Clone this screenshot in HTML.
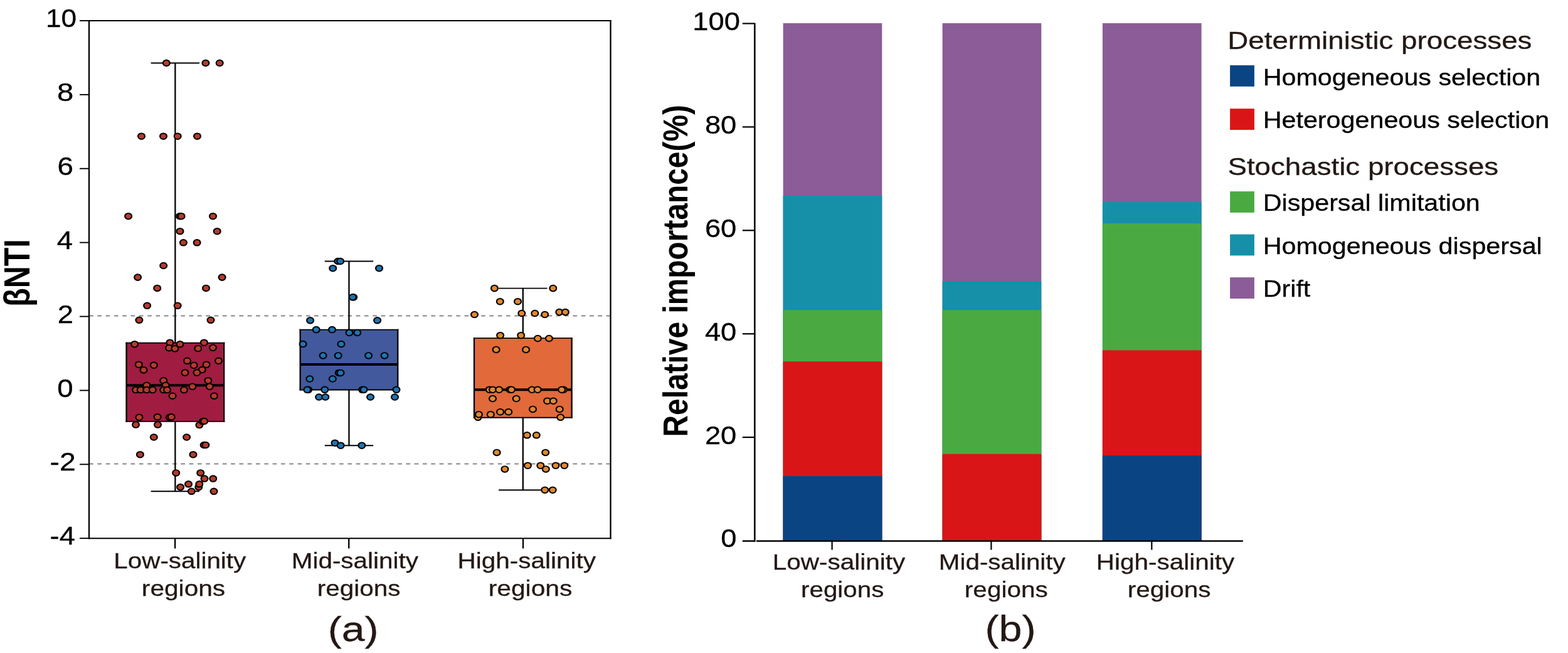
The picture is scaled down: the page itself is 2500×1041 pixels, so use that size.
<!DOCTYPE html>
<html><head><meta charset="utf-8"><title>Figure</title>
<style>html,body{margin:0;padding:0;background:#fff;}svg{display:block;}text{font-family:"Liberation Sans",Arial,sans-serif;}</style>
</head><body>
<svg width="2500" height="1041" viewBox="0 0 2500 1041">
<rect width="2500" height="1041" fill="#fff"/>
<line x1="142" y1="503.50" x2="973.5" y2="503.50" stroke="#666" stroke-width="1.5" stroke-dasharray="6.7 6.6"/>
<line x1="142" y1="739.50" x2="973.5" y2="739.50" stroke="#666" stroke-width="1.5" stroke-dasharray="6.7 6.6"/>
<line x1="127" y1="33.00" x2="142" y2="33.00" stroke="#000" stroke-width="1.9"/>
<text transform="translate(72.98,43.21) scale(1.0887,1)" font-size="40.60" fill="#000" stroke="#000" stroke-width="0.3">10</text>
<line x1="127" y1="150.88" x2="142" y2="150.88" stroke="#000" stroke-width="1.9"/>
<text transform="translate(90.97,161.09) scale(1.1634,1)" font-size="40.60" fill="#000" stroke="#000" stroke-width="0.3">8</text>
<line x1="127" y1="268.76" x2="142" y2="268.76" stroke="#000" stroke-width="1.9"/>
<text transform="translate(91.61,278.97) scale(1.1298,1)" font-size="40.60" fill="#000" stroke="#000" stroke-width="0.3">6</text>
<line x1="127" y1="386.64" x2="142" y2="386.64" stroke="#000" stroke-width="1.9"/>
<text transform="translate(90.63,396.85) scale(1.1200,1)" font-size="40.60" fill="#000" stroke="#000" stroke-width="0.3">4</text>
<line x1="127" y1="504.52" x2="142" y2="504.52" stroke="#000" stroke-width="1.9"/>
<text transform="translate(91.84,514.73) scale(1.1200,1)" font-size="40.60" fill="#000" stroke="#000" stroke-width="0.3">2</text>
<line x1="127" y1="622.40" x2="142" y2="622.40" stroke="#000" stroke-width="1.9"/>
<text transform="translate(91.27,632.61) scale(1.1252,1)" font-size="40.60" fill="#000" stroke="#000" stroke-width="0.3">0</text>
<line x1="127" y1="740.28" x2="142" y2="740.28" stroke="#000" stroke-width="1.9"/>
<text transform="translate(79.51,750.49) scale(1.1432,1)" font-size="40.60" fill="#000" stroke="#000" stroke-width="0.3">-2</text>
<line x1="127" y1="858.16" x2="142" y2="858.16" stroke="#000" stroke-width="1.9"/>
<text transform="translate(79.56,868.37) scale(1.1152,1)" font-size="40.60" fill="#000" stroke="#000" stroke-width="0.3">-4</text>
<line x1="279.35" y1="100.5" x2="279.35" y2="783.3" stroke="#000" stroke-width="2.3"/>
<line x1="240.65" y1="100.5" x2="318.05" y2="100.5" stroke="#000" stroke-width="1.9"/>
<line x1="240.65" y1="783.3" x2="318.05" y2="783.3" stroke="#000" stroke-width="1.9"/>
<rect x="201.55" y="546.6" width="155.60" height="125.30" fill="#a01c41"/>
<path d="M201.55,545.65V672.85M357.15,545.65V672.85" stroke="#000" stroke-width="2.3" fill="none"/>
<path d="M200.40,546.6H358.30M200.40,671.9H358.30" stroke="#000" stroke-width="1.9" fill="none"/>
<line x1="201.55" y1="614.3" x2="357.15" y2="614.3" stroke="#000" stroke-width="4"/>
<line x1="556.45" y1="416.5" x2="556.45" y2="710.2" stroke="#000" stroke-width="2.3"/>
<line x1="517.75" y1="416.5" x2="595.15" y2="416.5" stroke="#000" stroke-width="1.9"/>
<line x1="517.75" y1="710.2" x2="595.15" y2="710.2" stroke="#000" stroke-width="1.9"/>
<rect x="478.65" y="525.6" width="155.60" height="95.90" fill="#42599d"/>
<path d="M478.65,524.65V622.45M634.25,524.65V622.45" stroke="#000" stroke-width="2.3" fill="none"/>
<path d="M477.50,525.6H635.40M477.50,621.5H635.40" stroke="#000" stroke-width="1.9" fill="none"/>
<line x1="478.65" y1="581.0" x2="634.25" y2="581.0" stroke="#000" stroke-width="4"/>
<line x1="833.8" y1="459.6" x2="833.8" y2="781.2" stroke="#000" stroke-width="2.3"/>
<line x1="795.10" y1="459.6" x2="872.50" y2="459.6" stroke="#000" stroke-width="1.9"/>
<line x1="795.10" y1="781.2" x2="872.50" y2="781.2" stroke="#000" stroke-width="1.9"/>
<rect x="756.00" y="539.1" width="155.60" height="126.60" fill="#e2693a"/>
<path d="M756.00,538.15V666.65M911.60,538.15V666.65" stroke="#000" stroke-width="2.3" fill="none"/>
<path d="M754.85,539.1H912.75M754.85,665.7H912.75" stroke="#000" stroke-width="1.9" fill="none"/>
<line x1="756.00" y1="621.2" x2="911.60" y2="621.2" stroke="#000" stroke-width="4"/>
<circle transform="matrix(1.13,0,0,1,265.3,100.5)" r="4.8" fill="#b63b2b" stroke="#000" stroke-width="1.95"/>
<circle transform="matrix(1.13,0,0,1,327.9,100.5)" r="4.8" fill="#b63b2b" stroke="#000" stroke-width="1.95"/>
<circle transform="matrix(1.13,0,0,1,350.2,100.5)" r="4.8" fill="#b63b2b" stroke="#000" stroke-width="1.95"/>
<circle transform="matrix(1.13,0,0,1,225.5,217.2)" r="4.8" fill="#b63b2b" stroke="#000" stroke-width="1.95"/>
<circle transform="matrix(1.13,0,0,1,260.5,217.2)" r="4.8" fill="#b63b2b" stroke="#000" stroke-width="1.95"/>
<circle transform="matrix(1.13,0,0,1,283.2,217.2)" r="4.8" fill="#b63b2b" stroke="#000" stroke-width="1.95"/>
<circle transform="matrix(1.13,0,0,1,314.5,217.2)" r="4.8" fill="#b63b2b" stroke="#000" stroke-width="1.95"/>
<circle transform="matrix(1.13,0,0,1,204.6,344.7)" r="4.8" fill="#b63b2b" stroke="#000" stroke-width="1.95"/>
<circle transform="matrix(1.13,0,0,1,286.6,344.7)" r="4.8" fill="#b63b2b" stroke="#000" stroke-width="1.95"/>
<circle transform="matrix(1.13,0,0,1,289.1,344.7)" r="4.8" fill="#b63b2b" stroke="#000" stroke-width="1.95"/>
<circle transform="matrix(1.13,0,0,1,339.5,344.7)" r="4.8" fill="#b63b2b" stroke="#000" stroke-width="1.95"/>
<circle transform="matrix(1.13,0,0,1,287.0,368.7)" r="4.8" fill="#b63b2b" stroke="#000" stroke-width="1.95"/>
<circle transform="matrix(1.13,0,0,1,346.2,368.7)" r="4.8" fill="#b63b2b" stroke="#000" stroke-width="1.95"/>
<circle transform="matrix(1.13,0,0,1,292.4,386.8)" r="4.8" fill="#b63b2b" stroke="#000" stroke-width="1.95"/>
<circle transform="matrix(1.13,0,0,1,314.1,386.8)" r="4.8" fill="#b63b2b" stroke="#000" stroke-width="1.95"/>
<circle transform="matrix(1.13,0,0,1,260.7,423.5)" r="4.8" fill="#b63b2b" stroke="#000" stroke-width="1.95"/>
<circle transform="matrix(1.13,0,0,1,219.6,442.1)" r="4.8" fill="#b63b2b" stroke="#000" stroke-width="1.95"/>
<circle transform="matrix(1.13,0,0,1,354.1,442.1)" r="4.8" fill="#b63b2b" stroke="#000" stroke-width="1.95"/>
<circle transform="matrix(1.13,0,0,1,250.7,459.4)" r="4.8" fill="#b63b2b" stroke="#000" stroke-width="1.95"/>
<circle transform="matrix(1.13,0,0,1,328.5,459.4)" r="4.8" fill="#b63b2b" stroke="#000" stroke-width="1.95"/>
<circle transform="matrix(1.13,0,0,1,234.6,487.3)" r="4.8" fill="#b63b2b" stroke="#000" stroke-width="1.95"/>
<circle transform="matrix(1.13,0,0,1,283.2,487.3)" r="4.8" fill="#b63b2b" stroke="#000" stroke-width="1.95"/>
<circle transform="matrix(1.13,0,0,1,221.9,510.3)" r="4.8" fill="#b63b2b" stroke="#000" stroke-width="1.95"/>
<circle transform="matrix(1.13,0,0,1,336.0,510.3)" r="4.8" fill="#b63b2b" stroke="#000" stroke-width="1.95"/>
<circle transform="matrix(1.13,0,0,1,214.6,548.7)" r="4.8" fill="#b63b2b" stroke="#000" stroke-width="1.95"/>
<circle transform="matrix(1.13,0,0,1,270.9,546.2)" r="4.8" fill="#b63b2b" stroke="#000" stroke-width="1.95"/>
<circle transform="matrix(1.13,0,0,1,287.0,548.7)" r="4.8" fill="#b63b2b" stroke="#000" stroke-width="1.95"/>
<circle transform="matrix(1.13,0,0,1,269.5,554.7)" r="4.8" fill="#b63b2b" stroke="#000" stroke-width="1.95"/>
<circle transform="matrix(1.13,0,0,1,278.9,555.8)" r="4.8" fill="#b63b2b" stroke="#000" stroke-width="1.95"/>
<circle transform="matrix(1.13,0,0,1,325.4,546.2)" r="4.8" fill="#b63b2b" stroke="#000" stroke-width="1.95"/>
<circle transform="matrix(1.13,0,0,1,315.8,555.5)" r="4.8" fill="#b63b2b" stroke="#000" stroke-width="1.95"/>
<circle transform="matrix(1.13,0,0,1,339.5,554.3)" r="4.8" fill="#b63b2b" stroke="#000" stroke-width="1.95"/>
<circle transform="matrix(1.13,0,0,1,298.5,575.3)" r="4.8" fill="#b63b2b" stroke="#000" stroke-width="1.95"/>
<circle transform="matrix(1.13,0,0,1,348.5,575.3)" r="4.8" fill="#b63b2b" stroke="#000" stroke-width="1.95"/>
<circle transform="matrix(1.13,0,0,1,221.3,581.2)" r="4.8" fill="#b63b2b" stroke="#000" stroke-width="1.95"/>
<circle transform="matrix(1.13,0,0,1,245.3,582.2)" r="4.8" fill="#b63b2b" stroke="#000" stroke-width="1.95"/>
<circle transform="matrix(1.13,0,0,1,309.1,582.4)" r="4.8" fill="#b63b2b" stroke="#000" stroke-width="1.95"/>
<circle transform="matrix(1.13,0,0,1,329.1,581.2)" r="4.8" fill="#b63b2b" stroke="#000" stroke-width="1.95"/>
<circle transform="matrix(1.13,0,0,1,229.0,589.9)" r="4.8" fill="#b63b2b" stroke="#000" stroke-width="1.95"/>
<circle transform="matrix(1.13,0,0,1,322.2,589.5)" r="4.8" fill="#b63b2b" stroke="#000" stroke-width="1.95"/>
<circle transform="matrix(1.13,0,0,1,294.9,594.1)" r="4.8" fill="#b63b2b" stroke="#000" stroke-width="1.95"/>
<circle transform="matrix(1.13,0,0,1,313.9,594.1)" r="4.8" fill="#b63b2b" stroke="#000" stroke-width="1.95"/>
<circle transform="matrix(1.13,0,0,1,260.7,606.8)" r="4.8" fill="#b63b2b" stroke="#000" stroke-width="1.95"/>
<circle transform="matrix(1.13,0,0,1,331.8,606.8)" r="4.8" fill="#b63b2b" stroke="#000" stroke-width="1.95"/>
<circle transform="matrix(1.13,0,0,1,233.8,614.3)" r="4.8" fill="#b63b2b" stroke="#000" stroke-width="1.95"/>
<circle transform="matrix(1.13,0,0,1,264.1,614.3)" r="4.8" fill="#b63b2b" stroke="#000" stroke-width="1.95"/>
<circle transform="matrix(1.13,0,0,1,306.8,616.2)" r="4.8" fill="#b63b2b" stroke="#000" stroke-width="1.95"/>
<circle transform="matrix(1.13,0,0,1,334.3,616.2)" r="4.8" fill="#b63b2b" stroke="#000" stroke-width="1.95"/>
<circle transform="matrix(1.13,0,0,1,216.5,621.6)" r="4.8" fill="#b63b2b" stroke="#000" stroke-width="1.95"/>
<circle transform="matrix(1.13,0,0,1,224.2,621.6)" r="4.8" fill="#b63b2b" stroke="#000" stroke-width="1.95"/>
<circle transform="matrix(1.13,0,0,1,233.8,621.6)" r="4.8" fill="#b63b2b" stroke="#000" stroke-width="1.95"/>
<circle transform="matrix(1.13,0,0,1,243.4,621.6)" r="4.8" fill="#b63b2b" stroke="#000" stroke-width="1.95"/>
<circle transform="matrix(1.13,0,0,1,260.7,621.6)" r="4.8" fill="#b63b2b" stroke="#000" stroke-width="1.95"/>
<circle transform="matrix(1.13,0,0,1,266.5,621.6)" r="4.8" fill="#b63b2b" stroke="#000" stroke-width="1.95"/>
<circle transform="matrix(1.13,0,0,1,293.4,621.6)" r="4.8" fill="#b63b2b" stroke="#000" stroke-width="1.95"/>
<circle transform="matrix(1.13,0,0,1,275.1,631.2)" r="4.8" fill="#b63b2b" stroke="#000" stroke-width="1.95"/>
<circle transform="matrix(1.13,0,0,1,341.4,631.2)" r="4.8" fill="#b63b2b" stroke="#000" stroke-width="1.95"/>
<circle transform="matrix(1.13,0,0,1,221.9,665.3)" r="4.8" fill="#b63b2b" stroke="#000" stroke-width="1.95"/>
<circle transform="matrix(1.13,0,0,1,251.1,664.8)" r="4.8" fill="#b63b2b" stroke="#000" stroke-width="1.95"/>
<circle transform="matrix(1.13,0,0,1,270.3,665.3)" r="4.8" fill="#b63b2b" stroke="#000" stroke-width="1.95"/>
<circle transform="matrix(1.13,0,0,1,273.2,664.8)" r="4.8" fill="#b63b2b" stroke="#000" stroke-width="1.95"/>
<circle transform="matrix(1.13,0,0,1,216.5,677.1)" r="4.8" fill="#b63b2b" stroke="#000" stroke-width="1.95"/>
<circle transform="matrix(1.13,0,0,1,251.5,677.1)" r="4.8" fill="#b63b2b" stroke="#000" stroke-width="1.95"/>
<circle transform="matrix(1.13,0,0,1,317.9,677.6)" r="4.8" fill="#b63b2b" stroke="#000" stroke-width="1.95"/>
<circle transform="matrix(1.13,0,0,1,323.1,671.9)" r="4.8" fill="#b63b2b" stroke="#000" stroke-width="1.95"/>
<circle transform="matrix(1.13,0,0,1,325.6,671.5)" r="4.8" fill="#b63b2b" stroke="#000" stroke-width="1.95"/>
<circle transform="matrix(1.13,0,0,1,245.3,697.0)" r="4.8" fill="#b63b2b" stroke="#000" stroke-width="1.95"/>
<circle transform="matrix(1.13,0,0,1,297.6,697.0)" r="4.8" fill="#b63b2b" stroke="#000" stroke-width="1.95"/>
<circle transform="matrix(1.13,0,0,1,325.1,709.5)" r="4.8" fill="#b63b2b" stroke="#000" stroke-width="1.95"/>
<circle transform="matrix(1.13,0,0,1,327.9,709.5)" r="4.8" fill="#b63b2b" stroke="#000" stroke-width="1.95"/>
<circle transform="matrix(1.13,0,0,1,223.4,724.7)" r="4.8" fill="#b63b2b" stroke="#000" stroke-width="1.95"/>
<circle transform="matrix(1.13,0,0,1,308.0,724.7)" r="4.8" fill="#b63b2b" stroke="#000" stroke-width="1.95"/>
<circle transform="matrix(1.13,0,0,1,280.7,753.9)" r="4.8" fill="#b63b2b" stroke="#000" stroke-width="1.95"/>
<circle transform="matrix(1.13,0,0,1,319.7,753.9)" r="4.8" fill="#b63b2b" stroke="#000" stroke-width="1.95"/>
<circle transform="matrix(1.13,0,0,1,326.0,763.1)" r="4.8" fill="#b63b2b" stroke="#000" stroke-width="1.95"/>
<circle transform="matrix(1.13,0,0,1,339.8,763.1)" r="4.8" fill="#b63b2b" stroke="#000" stroke-width="1.95"/>
<circle transform="matrix(1.13,0,0,1,300.5,771.8)" r="4.8" fill="#b63b2b" stroke="#000" stroke-width="1.95"/>
<circle transform="matrix(1.13,0,0,1,316.8,776.6)" r="4.8" fill="#b63b2b" stroke="#000" stroke-width="1.95"/>
<circle transform="matrix(1.13,0,0,1,317.8,771.8)" r="4.8" fill="#b63b2b" stroke="#000" stroke-width="1.95"/>
<circle transform="matrix(1.13,0,0,1,287.6,776.6)" r="4.8" fill="#b63b2b" stroke="#000" stroke-width="1.95"/>
<circle transform="matrix(1.13,0,0,1,305.3,783.3)" r="4.8" fill="#b63b2b" stroke="#000" stroke-width="1.95"/>
<circle transform="matrix(1.13,0,0,1,341.0,783.3)" r="4.8" fill="#b63b2b" stroke="#000" stroke-width="1.95"/>
<circle transform="matrix(1.13,0,0,1,538.8,416.5)" r="4.8" fill="#1d74b2" stroke="#000" stroke-width="1.95"/>
<circle transform="matrix(1.13,0,0,1,542.6,416.5)" r="4.8" fill="#1d74b2" stroke="#000" stroke-width="1.95"/>
<circle transform="matrix(1.13,0,0,1,530.7,427.7)" r="4.8" fill="#1d74b2" stroke="#000" stroke-width="1.95"/>
<circle transform="matrix(1.13,0,0,1,604.5,427.7)" r="4.8" fill="#1d74b2" stroke="#000" stroke-width="1.95"/>
<circle transform="matrix(1.13,0,0,1,563.7,473.8)" r="4.8" fill="#1d74b2" stroke="#000" stroke-width="1.95"/>
<circle transform="matrix(1.13,0,0,1,562.4,473.8)" r="4.8" fill="#1d74b2" stroke="#000" stroke-width="1.95"/>
<circle transform="matrix(1.13,0,0,1,494.6,510.8)" r="4.8" fill="#1d74b2" stroke="#000" stroke-width="1.95"/>
<circle transform="matrix(1.13,0,0,1,601.6,510.8)" r="4.8" fill="#1d74b2" stroke="#000" stroke-width="1.95"/>
<circle transform="matrix(1.13,0,0,1,504.2,525.6)" r="4.8" fill="#1d74b2" stroke="#000" stroke-width="1.95"/>
<circle transform="matrix(1.13,0,0,1,529.5,525.6)" r="4.8" fill="#1d74b2" stroke="#000" stroke-width="1.95"/>
<circle transform="matrix(1.13,0,0,1,557.0,530.4)" r="4.8" fill="#1d74b2" stroke="#000" stroke-width="1.95"/>
<circle transform="matrix(1.13,0,0,1,569.7,530.4)" r="4.8" fill="#1d74b2" stroke="#000" stroke-width="1.95"/>
<circle transform="matrix(1.13,0,0,1,483.1,548.5)" r="4.8" fill="#1d74b2" stroke="#000" stroke-width="1.95"/>
<circle transform="matrix(1.13,0,0,1,544.0,548.5)" r="4.8" fill="#1d74b2" stroke="#000" stroke-width="1.95"/>
<circle transform="matrix(1.13,0,0,1,515.1,566.9)" r="4.8" fill="#1d74b2" stroke="#000" stroke-width="1.95"/>
<circle transform="matrix(1.13,0,0,1,539.2,566.9)" r="4.8" fill="#1d74b2" stroke="#000" stroke-width="1.95"/>
<circle transform="matrix(1.13,0,0,1,587.6,566.9)" r="4.8" fill="#1d74b2" stroke="#000" stroke-width="1.95"/>
<circle transform="matrix(1.13,0,0,1,613.1,566.9)" r="4.8" fill="#1d74b2" stroke="#000" stroke-width="1.95"/>
<circle transform="matrix(1.13,0,0,1,540.3,594.4)" r="4.8" fill="#1d74b2" stroke="#000" stroke-width="1.95"/>
<circle transform="matrix(1.13,0,0,1,543.0,594.4)" r="4.8" fill="#1d74b2" stroke="#000" stroke-width="1.95"/>
<circle transform="matrix(1.13,0,0,1,493.8,604.0)" r="4.8" fill="#1d74b2" stroke="#000" stroke-width="1.95"/>
<circle transform="matrix(1.13,0,0,1,530.3,604.0)" r="4.8" fill="#1d74b2" stroke="#000" stroke-width="1.95"/>
<circle transform="matrix(1.13,0,0,1,491.7,621.3)" r="4.8" fill="#1d74b2" stroke="#000" stroke-width="1.95"/>
<circle transform="matrix(1.13,0,0,1,489.8,621.3)" r="4.8" fill="#1d74b2" stroke="#000" stroke-width="1.95"/>
<circle transform="matrix(1.13,0,0,1,517.8,621.3)" r="4.8" fill="#1d74b2" stroke="#000" stroke-width="1.95"/>
<circle transform="matrix(1.13,0,0,1,577.6,621.3)" r="4.8" fill="#1d74b2" stroke="#000" stroke-width="1.95"/>
<circle transform="matrix(1.13,0,0,1,580.1,621.3)" r="4.8" fill="#1d74b2" stroke="#000" stroke-width="1.95"/>
<circle transform="matrix(1.13,0,0,1,632.0,621.3)" r="4.8" fill="#1d74b2" stroke="#000" stroke-width="1.95"/>
<circle transform="matrix(1.13,0,0,1,508.6,633.0)" r="4.8" fill="#1d74b2" stroke="#000" stroke-width="1.95"/>
<circle transform="matrix(1.13,0,0,1,518.8,633.0)" r="4.8" fill="#1d74b2" stroke="#000" stroke-width="1.95"/>
<circle transform="matrix(1.13,0,0,1,590.6,633.0)" r="4.8" fill="#1d74b2" stroke="#000" stroke-width="1.95"/>
<circle transform="matrix(1.13,0,0,1,629.5,633.0)" r="4.8" fill="#1d74b2" stroke="#000" stroke-width="1.95"/>
<circle transform="matrix(1.13,0,0,1,534.0,706.2)" r="4.8" fill="#1d74b2" stroke="#000" stroke-width="1.95"/>
<circle transform="matrix(1.13,0,0,1,543.2,710.2)" r="4.8" fill="#1d74b2" stroke="#000" stroke-width="1.95"/>
<circle transform="matrix(1.13,0,0,1,576.8,710.2)" r="4.8" fill="#1d74b2" stroke="#000" stroke-width="1.95"/>
<circle transform="matrix(1.13,0,0,1,788.4,459.6)" r="4.8" fill="#e0882e" stroke="#000" stroke-width="1.95"/>
<circle transform="matrix(1.13,0,0,1,881.8,459.6)" r="4.8" fill="#e0882e" stroke="#000" stroke-width="1.95"/>
<circle transform="matrix(1.13,0,0,1,797.3,480.7)" r="4.8" fill="#e0882e" stroke="#000" stroke-width="1.95"/>
<circle transform="matrix(1.13,0,0,1,825.5,480.7)" r="4.8" fill="#e0882e" stroke="#000" stroke-width="1.95"/>
<circle transform="matrix(1.13,0,0,1,756.5,501.5)" r="4.8" fill="#e0882e" stroke="#000" stroke-width="1.95"/>
<circle transform="matrix(1.13,0,0,1,831.8,499.5)" r="4.8" fill="#e0882e" stroke="#000" stroke-width="1.95"/>
<circle transform="matrix(1.13,0,0,1,852.8,499.5)" r="4.8" fill="#e0882e" stroke="#000" stroke-width="1.95"/>
<circle transform="matrix(1.13,0,0,1,868.7,501.5)" r="4.8" fill="#e0882e" stroke="#000" stroke-width="1.95"/>
<circle transform="matrix(1.13,0,0,1,891.8,497.6)" r="4.8" fill="#e0882e" stroke="#000" stroke-width="1.95"/>
<circle transform="matrix(1.13,0,0,1,901.4,497.6)" r="4.8" fill="#e0882e" stroke="#000" stroke-width="1.95"/>
<circle transform="matrix(1.13,0,0,1,797.6,534.7)" r="4.8" fill="#e0882e" stroke="#000" stroke-width="1.95"/>
<circle transform="matrix(1.13,0,0,1,830.7,534.7)" r="4.8" fill="#e0882e" stroke="#000" stroke-width="1.95"/>
<circle transform="matrix(1.13,0,0,1,857.4,539.5)" r="4.8" fill="#e0882e" stroke="#000" stroke-width="1.95"/>
<circle transform="matrix(1.13,0,0,1,875.4,539.5)" r="4.8" fill="#e0882e" stroke="#000" stroke-width="1.95"/>
<circle transform="matrix(1.13,0,0,1,791.1,557.4)" r="4.8" fill="#e0882e" stroke="#000" stroke-width="1.95"/>
<circle transform="matrix(1.13,0,0,1,838.6,557.4)" r="4.8" fill="#e0882e" stroke="#000" stroke-width="1.95"/>
<circle transform="matrix(1.13,0,0,1,780.3,621.2)" r="4.8" fill="#e0882e" stroke="#000" stroke-width="1.95"/>
<circle transform="matrix(1.13,0,0,1,785.5,621.2)" r="4.8" fill="#e0882e" stroke="#000" stroke-width="1.95"/>
<circle transform="matrix(1.13,0,0,1,795.7,621.2)" r="4.8" fill="#e0882e" stroke="#000" stroke-width="1.95"/>
<circle transform="matrix(1.13,0,0,1,813.0,621.2)" r="4.8" fill="#e0882e" stroke="#000" stroke-width="1.95"/>
<circle transform="matrix(1.13,0,0,1,815.5,621.2)" r="4.8" fill="#e0882e" stroke="#000" stroke-width="1.95"/>
<circle transform="matrix(1.13,0,0,1,848.2,621.2)" r="4.8" fill="#e0882e" stroke="#000" stroke-width="1.95"/>
<circle transform="matrix(1.13,0,0,1,857.2,621.2)" r="4.8" fill="#e0882e" stroke="#000" stroke-width="1.95"/>
<circle transform="matrix(1.13,0,0,1,898.5,621.2)" r="4.8" fill="#e0882e" stroke="#000" stroke-width="1.95"/>
<circle transform="matrix(1.13,0,0,1,895.6,621.2)" r="4.8" fill="#e0882e" stroke="#000" stroke-width="1.95"/>
<circle transform="matrix(1.13,0,0,1,785.5,635.5)" r="4.8" fill="#e0882e" stroke="#000" stroke-width="1.95"/>
<circle transform="matrix(1.13,0,0,1,823.2,635.5)" r="4.8" fill="#e0882e" stroke="#000" stroke-width="1.95"/>
<circle transform="matrix(1.13,0,0,1,872.6,639.2)" r="4.8" fill="#e0882e" stroke="#000" stroke-width="1.95"/>
<circle transform="matrix(1.13,0,0,1,882.2,639.2)" r="4.8" fill="#e0882e" stroke="#000" stroke-width="1.95"/>
<circle transform="matrix(1.13,0,0,1,849.5,652.4)" r="4.8" fill="#e0882e" stroke="#000" stroke-width="1.95"/>
<circle transform="matrix(1.13,0,0,1,892.2,652.4)" r="4.8" fill="#e0882e" stroke="#000" stroke-width="1.95"/>
<circle transform="matrix(1.13,0,0,1,797.6,656.7)" r="4.8" fill="#e0882e" stroke="#000" stroke-width="1.95"/>
<circle transform="matrix(1.13,0,0,1,810.7,656.7)" r="4.8" fill="#e0882e" stroke="#000" stroke-width="1.95"/>
<circle transform="matrix(1.13,0,0,1,782.3,660.7)" r="4.8" fill="#e0882e" stroke="#000" stroke-width="1.95"/>
<circle transform="matrix(1.13,0,0,1,762.1,665.3)" r="4.8" fill="#e0882e" stroke="#000" stroke-width="1.95"/>
<circle transform="matrix(1.13,0,0,1,763.4,660.7)" r="4.8" fill="#e0882e" stroke="#000" stroke-width="1.95"/>
<circle transform="matrix(1.13,0,0,1,893.7,665.3)" r="4.8" fill="#e0882e" stroke="#000" stroke-width="1.95"/>
<circle transform="matrix(1.13,0,0,1,840.3,693.8)" r="4.8" fill="#e0882e" stroke="#000" stroke-width="1.95"/>
<circle transform="matrix(1.13,0,0,1,855.3,693.8)" r="4.8" fill="#e0882e" stroke="#000" stroke-width="1.95"/>
<circle transform="matrix(1.13,0,0,1,792.1,721.4)" r="4.8" fill="#e0882e" stroke="#000" stroke-width="1.95"/>
<circle transform="matrix(1.13,0,0,1,869.7,721.4)" r="4.8" fill="#e0882e" stroke="#000" stroke-width="1.95"/>
<circle transform="matrix(1.13,0,0,1,841.4,742.2)" r="4.8" fill="#e0882e" stroke="#000" stroke-width="1.95"/>
<circle transform="matrix(1.13,0,0,1,861.8,742.2)" r="4.8" fill="#e0882e" stroke="#000" stroke-width="1.95"/>
<circle transform="matrix(1.13,0,0,1,886.0,742.2)" r="4.8" fill="#e0882e" stroke="#000" stroke-width="1.95"/>
<circle transform="matrix(1.13,0,0,1,899.8,742.2)" r="4.8" fill="#e0882e" stroke="#000" stroke-width="1.95"/>
<circle transform="matrix(1.13,0,0,1,804.9,747.9)" r="4.8" fill="#e0882e" stroke="#000" stroke-width="1.95"/>
<circle transform="matrix(1.13,0,0,1,870.3,747.9)" r="4.8" fill="#e0882e" stroke="#000" stroke-width="1.95"/>
<circle transform="matrix(1.13,0,0,1,868.7,781.2)" r="4.8" fill="#e0882e" stroke="#000" stroke-width="1.95"/>
<circle transform="matrix(1.13,0,0,1,881.2,781.2)" r="4.8" fill="#e0882e" stroke="#000" stroke-width="1.95"/>
<path d="M142,32.05V859.1500000000001M973.5,32.05V859.1500000000001" stroke="#000" stroke-width="2.3" fill="none"/>
<path d="M140.85,33H974.65M140.85,858.2H974.65" stroke="#000" stroke-width="1.9" fill="none"/>
<line x1="279.1" y1="858.2" x2="279.1" y2="874.4" stroke="#000" stroke-width="2.3"/>
<line x1="556.2" y1="858.2" x2="556.2" y2="874.4" stroke="#000" stroke-width="2.3"/>
<line x1="834.0" y1="858.2" x2="834.0" y2="874.4" stroke="#000" stroke-width="2.3"/>
<text transform="translate(181.37,906.40) scale(1.1345,1)" font-size="35.60" fill="#231815" stroke="#231815" stroke-width="0.3">Low-salinity</text>
<text transform="translate(225.86,950.00) scale(1.1421,1)" font-size="35.60" fill="#231815" stroke="#231815" stroke-width="0.3">regions</text>
<text transform="translate(464.77,906.40) scale(1.1356,1)" font-size="35.60" fill="#231815" stroke="#231815" stroke-width="0.3">Mid-salinity</text>
<text transform="translate(505.67,950.00) scale(1.1368,1)" font-size="35.60" fill="#231815" stroke="#231815" stroke-width="0.3">regions</text>
<text transform="translate(729.46,906.40) scale(1.1377,1)" font-size="35.60" fill="#231815" stroke="#231815" stroke-width="0.3">High-salinity</text>
<text transform="translate(778.65,950.00) scale(1.1457,1)" font-size="35.60" fill="#231815" stroke="#231815" stroke-width="0.3">regions</text>
<text transform="translate(522.73,1021.67) scale(1.1797,1)" font-size="56.10" fill="#231815" stroke="#231815" stroke-width="0.3">(a)</text>
<text transform="translate(47.20,488.79) rotate(-90) scale(1,1.1770)" font-size="48.44" font-weight="bold" fill="#000">βNTI</text>
<rect x="1248.6" y="37.0" width="157.7" height="825.00" fill="#8b5c98"/>
<rect x="1248.6" y="311.7" width="157.7" height="550.30" fill="#1690a9"/>
<rect x="1248.6" y="494.4" width="157.7" height="367.60" fill="#4aaa41"/>
<rect x="1248.6" y="576.3" width="157.7" height="285.70" fill="#da1517"/>
<rect x="1248.6" y="759.0" width="157.7" height="103.00" fill="#0b4483"/>
<rect x="1502.6" y="37.0" width="157.7" height="825.00" fill="#8b5c98"/>
<rect x="1502.6" y="448.9" width="157.7" height="413.10" fill="#1690a9"/>
<rect x="1502.6" y="494.4" width="157.7" height="367.60" fill="#4aaa41"/>
<rect x="1502.6" y="723.8" width="157.7" height="138.20" fill="#da1517"/>
<rect x="1757.9" y="37.0" width="157.7" height="825.00" fill="#8b5c98"/>
<rect x="1757.9" y="322.1" width="157.7" height="539.90" fill="#1690a9"/>
<rect x="1757.9" y="356.1" width="157.7" height="505.90" fill="#4aaa41"/>
<rect x="1757.9" y="558.4" width="157.7" height="303.60" fill="#da1517"/>
<rect x="1757.9" y="726.1" width="157.7" height="135.90" fill="#0b4483"/>
<line x1="1203.3" y1="36.7" x2="1203.3" y2="863.8" stroke="#000" stroke-width="2.6"/>
<line x1="1205.9" y1="862.5" x2="1981.8" y2="862.5" stroke="#000" stroke-width="2.5"/>
<line x1="1183.8" y1="862.50" x2="1203.3" y2="862.50" stroke="#000" stroke-width="2.5"/>
<text transform="translate(1149.26,872.42) scale(1.1000,1)" font-size="41.20" fill="#000" stroke="#000" stroke-width="0.3">0</text>
<line x1="1183.8" y1="697.10" x2="1203.3" y2="697.10" stroke="#000" stroke-width="2.2"/>
<text transform="translate(1123.88,707.52) scale(1.1000,1)" font-size="41.20" fill="#000" stroke="#000" stroke-width="0.3">20</text>
<line x1="1183.8" y1="532.20" x2="1203.3" y2="532.20" stroke="#000" stroke-width="2.2"/>
<text transform="translate(1123.88,542.62) scale(1.1000,1)" font-size="41.20" fill="#000" stroke="#000" stroke-width="0.3">40</text>
<line x1="1183.8" y1="367.30" x2="1203.3" y2="367.30" stroke="#000" stroke-width="2.2"/>
<text transform="translate(1123.88,377.72) scale(1.1000,1)" font-size="41.20" fill="#000" stroke="#000" stroke-width="0.3">60</text>
<line x1="1183.8" y1="202.40" x2="1203.3" y2="202.40" stroke="#000" stroke-width="2.2"/>
<text transform="translate(1123.88,212.82) scale(1.1000,1)" font-size="41.20" fill="#000" stroke="#000" stroke-width="0.3">80</text>
<line x1="1183.8" y1="37.50" x2="1203.3" y2="37.50" stroke="#000" stroke-width="2.2"/>
<text transform="translate(1104.23,47.92) scale(1.1000,1)" font-size="41.20" fill="#000" stroke="#000" stroke-width="0.3">100</text>
<line x1="1326.6" y1="862" x2="1326.6" y2="876.5" stroke="#000" stroke-width="2.2"/>
<line x1="1580.4" y1="862" x2="1580.4" y2="876.5" stroke="#000" stroke-width="2.2"/>
<line x1="1836.3" y1="862" x2="1836.3" y2="876.5" stroke="#000" stroke-width="2.2"/>
<text transform="translate(1231.66,908.00) scale(1.1384,1)" font-size="35.60" fill="#231815" stroke="#231815" stroke-width="0.3">Low-salinity</text>
<text transform="translate(1277.08,951.70) scale(1.1333,1)" font-size="35.60" fill="#231815" stroke="#231815" stroke-width="0.3">regions</text>
<text transform="translate(1496.87,908.00) scale(1.1345,1)" font-size="35.60" fill="#231815" stroke="#231815" stroke-width="0.3">Mid-salinity</text>
<text transform="translate(1537.87,951.70) scale(1.1386,1)" font-size="35.60" fill="#231815" stroke="#231815" stroke-width="0.3">regions</text>
<text transform="translate(1747.86,908.00) scale(1.1367,1)" font-size="35.60" fill="#231815" stroke="#231815" stroke-width="0.3">High-salinity</text>
<text transform="translate(1797.67,951.70) scale(1.1368,1)" font-size="35.60" fill="#231815" stroke="#231815" stroke-width="0.3">regions</text>
<text transform="translate(1570.42,1022.16) scale(1.1746,1)" font-size="56.50" fill="#231815" stroke="#231815" stroke-width="0.3">(b)</text>
<text transform="translate(1095.50,696.51) rotate(-90) scale(1,1.1500)" font-size="47.89" font-weight="bold" fill="#000">Relative importance(%)</text>
<text transform="translate(1957.24,78.00) scale(1.1695,1)" font-size="39.10" fill="#231815" stroke="#231815" stroke-width="0.3">Deterministic processes</text>
<text transform="translate(1957.44,278.70) scale(1.1689,1)" font-size="39.10" fill="#231815" stroke="#231815" stroke-width="0.3">Stochastic processes</text>
<rect x="1961.1" y="104.1" width="38.8" height="33.8" fill="#0b4483"/>
<text transform="translate(2013.70,136.10) scale(1.1272,1)" font-size="36.60" fill="#000" stroke="#000" stroke-width="0.3">Homogeneous selection</text>
<rect x="1961.1" y="173.2" width="38.8" height="33.8" fill="#da1517"/>
<text transform="translate(2013.70,204.30) scale(1.1277,1)" font-size="36.60" fill="#000" stroke="#000" stroke-width="0.3">Heterogeneous selection</text>
<rect x="1961.1" y="305.1" width="38.8" height="33.8" fill="#4aaa41"/>
<text transform="translate(2013.70,336.10) scale(1.1270,1)" font-size="36.60" fill="#000" stroke="#000" stroke-width="0.3">Dispersal limitation</text>
<rect x="1961.1" y="373.6" width="38.8" height="33.8" fill="#1690a9"/>
<text transform="translate(2013.70,404.60) scale(1.1281,1)" font-size="36.60" fill="#000" stroke="#000" stroke-width="0.3">Homogeneous dispersal</text>
<rect x="1961.1" y="442.2" width="38.8" height="33.8" fill="#8b5c98"/>
<text transform="translate(2013.70,473.10) scale(1.1273,1)" font-size="36.60" fill="#000" stroke="#000" stroke-width="0.3">Drift</text>
</svg>
</body></html>
